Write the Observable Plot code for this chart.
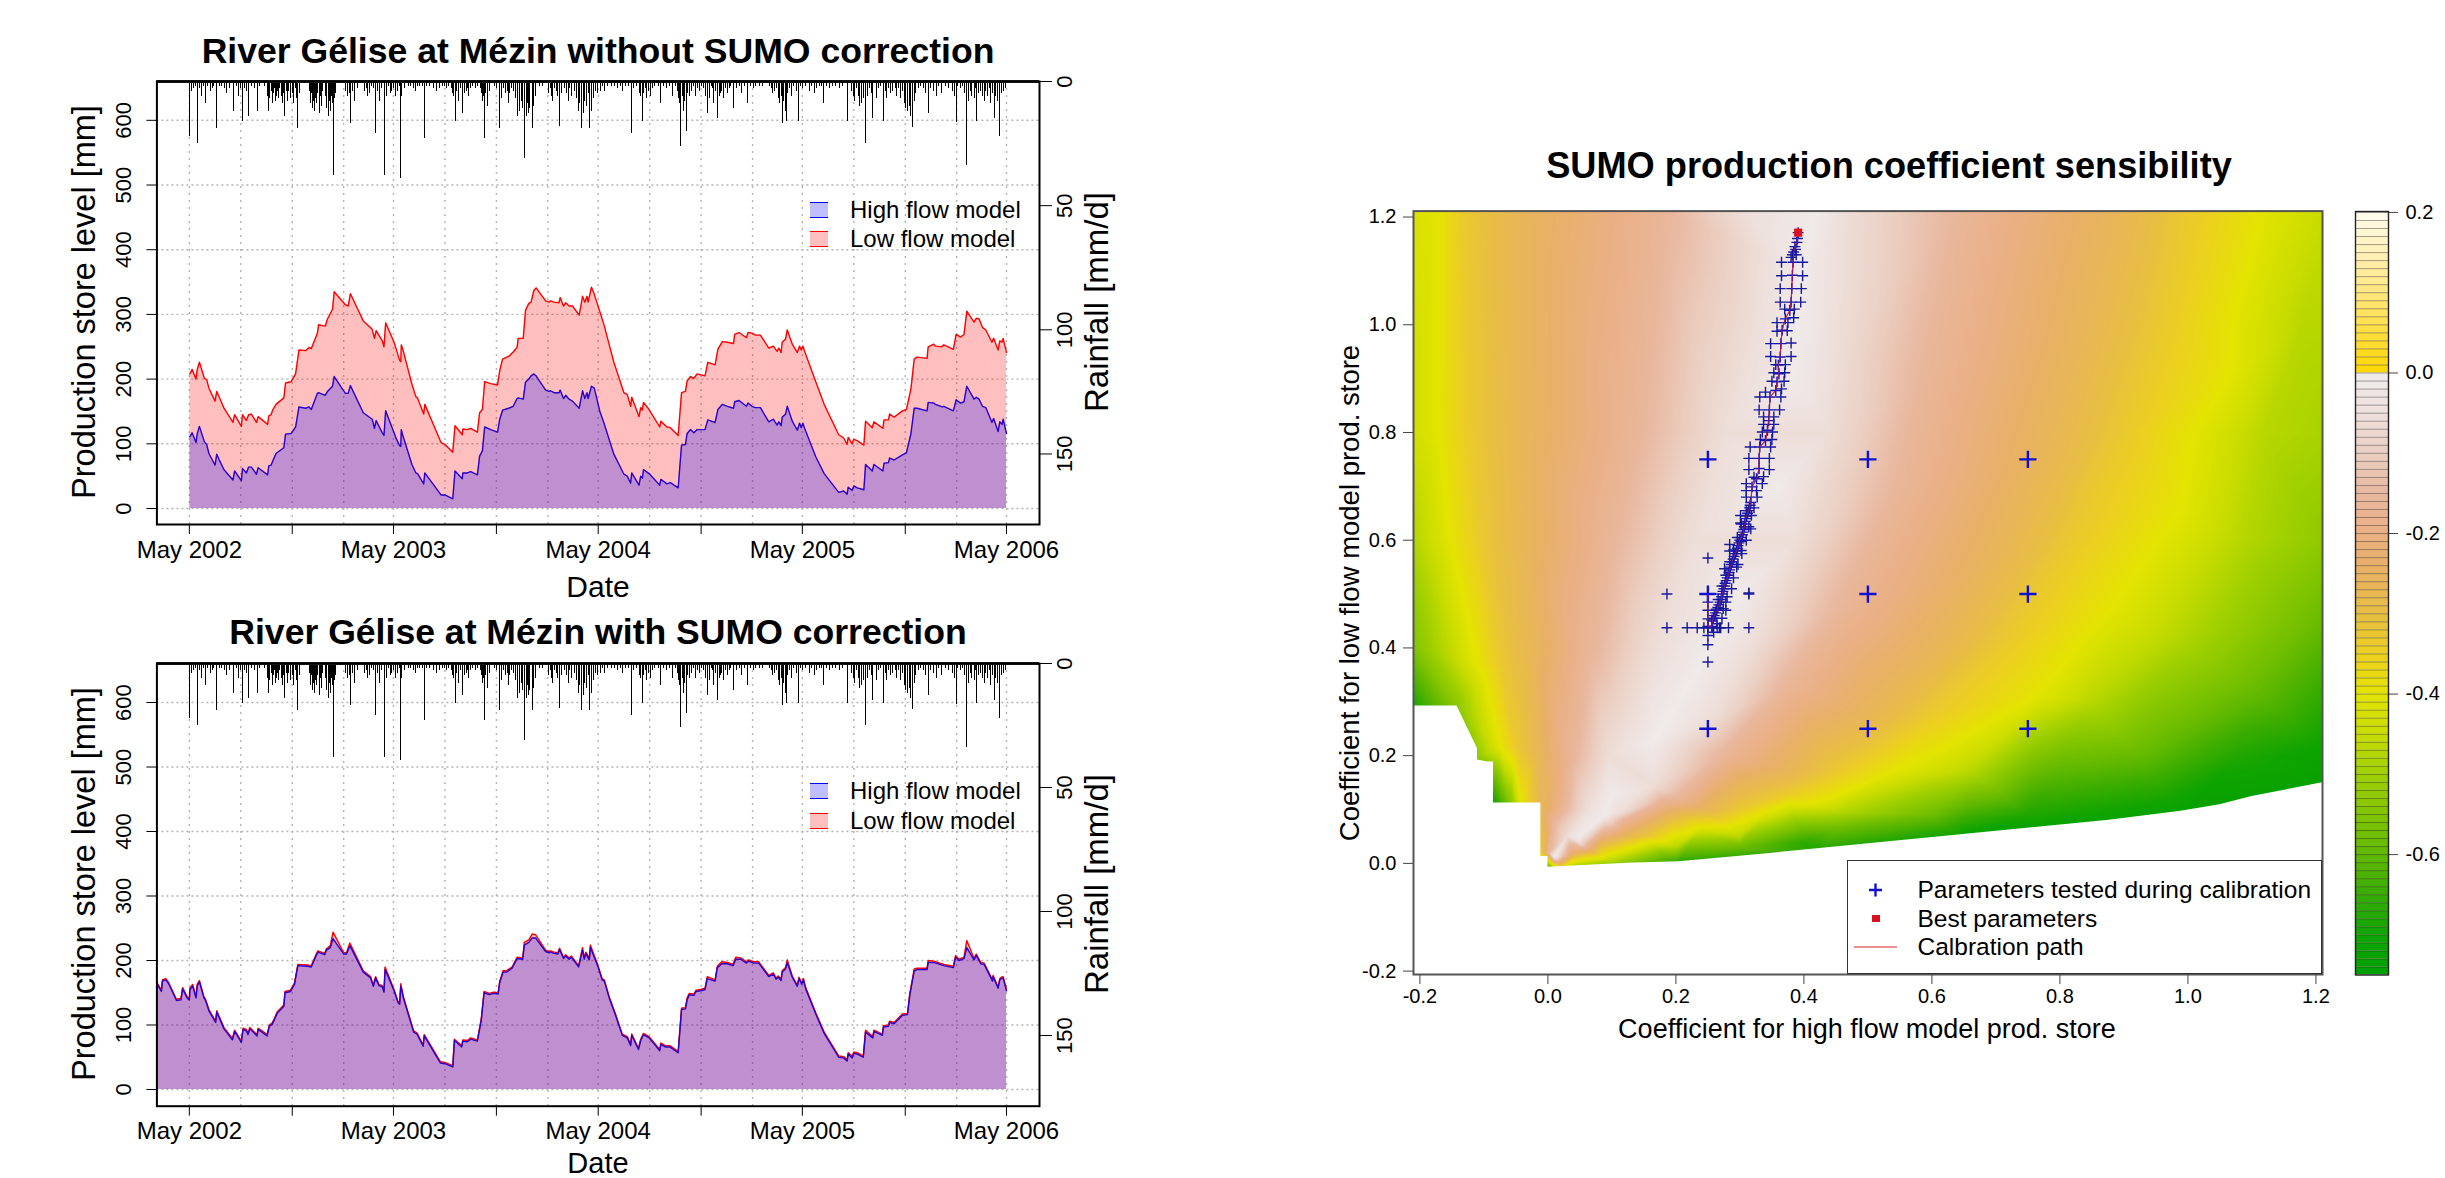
<!DOCTYPE html>
<html><head><meta charset="utf-8">
<script src="https://cdn.jsdelivr.net/npm/d3@7"></script>
<script src="https://cdn.jsdelivr.net/npm/@observablehq/plot@0.6"></script>
<style>
html,body{margin:0;padding:0;background:#fff;}
#page{position:relative;width:2445px;height:1178px;overflow:hidden;font-family:"Liberation Sans",Arial,sans-serif;color:#000;}
#page svg.plot-abs{position:absolute;max-width:none;}
.lbl{position:absolute;white-space:nowrap;line-height:1;}
</style></head><body><div id="page"></div>
<script>
// ---- production store series, upper chart (days after 1 May 2002, mm)
const daysTop=[1,5,12,14,18,27,31,35,46,49,53,62,78,81,93,95,102,106,111,120,123,140,142,146,149,155,169,172,182,190,196,208,214,218,229,231,243,247,256,259,279,284,288,311,327,331,334,345,348,351,366,370,376,378,379,382,398,405,408,419,421,450,457,471,475,488,489,497,503,515,519,524,528,539,551,555,560,571,579,586,588,597,601,607,611,616,620,637,643,646,652,661,663,669,673,679,685,697,703,707,711,713,719,724,734,
741,759,777,783,789,791,804,807,810,812,822,841,843,854,860,874,880,887,890,896,902,908,922,927,940,945,953,962,973,975,983,996,999,1006,1012,1021,1036,1044,1051,1054,1058,1060,1066,1069,1078,1087,1091,1094,1097,1100,1120,1135,1161,1170,1176,1178,1185,1188,1194,1206,1209,1221,1224,1240,1242,1250,1252,1260,1275,1282,1290,1296,1301,1319,1321,1331,1334,1346,1349,1366,1371,1379,1385,1390,1403,1407,1412,1418,1424,1435,1438,1446,1449,1453,1455,1461];
const lowTop=[208,215,200,214,226,201,199,186,166,181,173,155,133,145,127,145,136,145,146,133,142,130,143,145,152,161,171,194,196,208,245,244,249,247,271,284,282,293,308,335,315,313,332,290,277,263,275,259,250,287,257,246,229,227,253,245,192,173,171,146,161,102,99,87,128,114,123,122,124,118,148,153,196,193,191,213,231,235,242,249,263,263,306,317,319,337,341,321,319,321,319,318,326,313,318,313,313,299,328,319,328,319,342,331,304,
285,226,179,176,158,172,142,156,152,164,153,126,135,126,125,113,179,181,197,204,201,208,205,226,222,246,258,257,255,269,272,264,272,271,268,268,248,251,243,248,241,257,262,276,254,241,251,245,251,243,196,161,114,109,99,110,100,107,105,98,135,125,134,124,137,137,146,141,151,153,184,231,234,232,250,254,251,250,253,246,269,265,269,305,288,294,293,280,276,257,263,245,259,257,263,241];
const highTop=[111,117,102,115,127,103,99,85,67,84,76,60,44,58,43,62,55,64,64,53,63,52,66,67,73,85,94,115,116,126,157,155,157,153,178,179,175,181,189,204,178,178,190,148,138,124,136,117,113,151,117,108,97,96,122,112,68,55,54,38,55,21,21,15,58,46,55,55,57,52,81,89,126,122,118,138,152,155,158,170,171,169,195,200,205,208,205,183,181,182,179,179,183,170,175,169,166,155,182,170,179,170,189,186,150,
133,84,53,50,39,55,36,50,47,60,54,36,45,38,40,32,98,99,116,122,117,122,122,137,133,153,161,158,155,165,167,158,163,158,156,156,134,138,129,134,128,141,146,158,135,121,132,125,132,124,80,54,25,27,22,33,28,35,32,29,68,58,68,58,70,71,78,75,83,86,115,155,155,151,164,163,161,157,158,151,168,163,165,189,169,172,169,158,156,133,139,119,134,130,138,116];
// ---- production store series, lower chart
const daysBot=[-58,-50,-48,-42,-37,-23,-15,-12,-4,0,1,6,12,14,18,26,29,35,47,49,62,77,81,93,96,102,105,108,112,121,123,130,139,143,148,152,157,169,171,181,188,194,211,218,227,230,242,245,252,257,276,281,287,311,324,329,333,339,345,348,350,366,373,376,378,383,401,407,418,420,449,457,471,474,487,489,497,503,515,518,522,527,536,545,552,555,561,567,577,586,596,599,607,613,619,637,643,646,652,659,662,669,673,679,683,696,703,706,709,715,717,
730,738,742,751,762,774,783,789,791,803,807,812,822,841,843,851,859,874,880,887,890,894,902,906,914,922,926,940,944,952,962,972,977,986,996,1000,1009,1018,1036,1044,1049,1053,1058,1060,1066,1069,1078,1087,1090,1095,1098,1102,1120,1135,1161,1170,1176,1178,1185,1188,1194,1205,1209,1222,1224,1239,1241,1250,1252,1260,1275,1284,1288,1296,1301,1319,1321,1331,1335,1349,1366,1370,1376,1385,1390,1403,1407,1415,1421,1436,1437,1446,1449,1452,1455,1461];
const highBot=[164,152,168,170,164,138,139,156,142,139,155,160,142,160,167,142,138,122,104,120,94,77,90,73,93,91,85,94,91,83,93,89,83,98,101,108,118,129,150,152,163,192,191,190,208,213,209,216,220,234,210,210,223,182,173,160,173,161,159,151,186,153,135,132,160,141,89,86,67,83,41,40,35,76,66,75,74,78,75,89,108,150,147,149,148,166,182,182,188,203,202,224,228,235,235,214,212,213,211,210,217,203,207,202,205,190,216,202,211,201,220,
192,170,168,141,115,84,80,68,84,62,76,85,80,60,70,66,66,57,124,125,139,147,146,152,153,155,172,168,189,195,195,192,202,202,196,199,196,196,175,179,171,174,169,182,187,197,174,160,172,163,170,156,117,87,50,49,44,55,49,56,55,50,89,80,90,84,97,98,104,102,115,116,146,184,186,186,197,197,196,192,189,205,200,203,220,201,208,195,194,168,175,157,170,172,173,153];
const lowBot=[166,154,170,172,166,140,141,158,144,141,157,163,144,163,169,144,140,124,106,122,96,79,92,75,95,93,87,96,93,85,95,91,85,100,103,110,120,131,152,154,165,194,193,192,210,215,211,218,223,244,212,212,227,184,175,162,175,163,161,153,190,155,137,134,164,143,91,88,69,85,43,42,37,78,68,77,76,80,77,91,110,152,149,151,150,168,184,184,190,205,204,228,232,241,240,216,214,215,213,212,219,205,209,204,207,192,220,204,213,203,224,
194,172,170,143,117,86,82,70,86,64,78,87,82,62,72,68,68,59,126,127,142,149,148,154,155,157,175,170,191,198,197,194,205,204,198,201,198,198,177,181,173,176,171,184,189,201,176,162,174,165,172,158,119,89,52,51,46,57,51,58,57,52,92,82,92,86,99,100,106,104,117,118,148,187,188,188,200,199,198,194,191,208,202,205,231,203,210,197,196,170,177,159,172,174,175,155];
// ---- daily rainfall (days after 1 May 2002, mm/d), large spikes then smaller ones
const rainDays=[0,14,29,49,79,95,106,122,141,171,194,258,288,333,349,378,420,475,489,528,554,587,599,613,662,701,716,790,810,843,879,889,927,944,973,998,1060,1068,1089,1134,1177,1209,1222,1241,1293,1321,1371,1390,1408,1439,1448,
3,8,11,18,21,25,33,38,41,44,54,58,62,67,72,84,88,91,99,102,112,116,126,135,139,144,146,148,150,152,154,156,158,160,162,165,167,169,173,175,178,181,184,187,190,192,197,214,216,218,220,222,224,226,228,230,232,234,236,238,244,246,248,250,252,254,256,260,262,280,283,286,291,296,300,313,316,319,322,326,330,336,340,344,352,356,360,362,365,368,372,376,380,384,392,396,400,405,408,412,416,424,430,436,442,448,452,456,460,464,468,470,472,478,482,485,492,495,498,500,503,507,512,516,520,522,524,526,530,533,536,545,550,558,562,565,568,570,573,576,580,584,590,593,596,602,604,606,609,616,619,626,632,642,645,648,650,653,656,659,666,670,674,678,680,684,688,692,695,698,704,707,710,713,719,722,726,730,735,738,742,748,754,760,765,770,775,780,785,795,800,804,807,812,815,818,821,825,828,832,838,848,853,858,864,869,872,875,877,881,883,885,891,894,897,902,905,908,912,916,920,922,930,933,935,938,941,948,950,952,955,958,962,965,968,978,983,987,992,1003,1008,1013,1020,1025,1037,1040,1043,1046,1050,1053,1055,1058,1062,1065,1070,1073,1076,1080,1085,1093,1097,1102,1108,1112,1118,1122,1126,1130,1140,1145,1150,1156,1162,1168,1184,1187,1190,1193,1196,1199,1202,1205,1212,1216,1219,1228,1232,1236,1244,1247,1250,1254,1258,1262,1265,1268,1272,1275,1278,1281,1284,1287,1290,1296,1299,1303,1307,1312,1316,1325,1330,1335,1340,1345,1352,1358,1364,1368,1374,1378,1382,1386,1393,1396,1399,1403,1406,1411,1415,1418,1421,1424,1427,1430,1433,1436,1442,1445,1452,1456,1459];
const rainMm=[22,25,9,19,12,16,14,12,12,14,19,38,17,21,38,39,23,16,13,23,19,14,31,19,18,19,19,21,16,9,26,20,13,15,11,9,17,16,16,9,16,25,15,16,18.5,13,16.5,34,16,15,22,
4,3,2,3,6,2,2,4,3,2,2,2,3,5,3,2,6,3,3,4,2,3,2,2,6,7,4,9,5,3,8,6,4,7,3,6,9,5,4,8,4,7,5,9,3,7,5,4,9,5,11,8,12,7,9,5,13,6,10,4,6,11,14,8,12,6,9,7,5,4,6,5,4,8,3,4,3,6,5,2,3,4,8,3,6,2,5,4,3,6,4,2,6,3,2,2,3,4,2,2,2,2,2,3,4,3,2,2,3,2,3,5,6,4,8,3,5,4,3,6,3,2,3,2,3,5,8,6,5,10,4,2,3,7,3,5,4,9,5,3,4,7,12,8,11,14,9,13,11,10,6,2,2,5,3,6,8,3,4,6,5,3,5,8,3,6,4,7,12,9,13,8,10,5,12,7,4,5,4,2,4,2,2,2,3,2,4,2,2,3,2,5,6,5,3,7,4,6,3,2,2,2,3,2,6,2,4,7,9,6,12,8,5,6,4,2,6,3,4,2,3,6,7,2,3,9,4,6,5,4,7,3,5,3,2,3,2,5,2,2,3,2,2,2,2,3,5,4,3,7,9,6,8,12,5,3,6,2,4,2,3,2,4,2,5,3,2,2,2,3,2,2,3,2,4,6,8,3,6,10,9,7,6,3,5,7,3,2,4,7,3,5,4,3,6,3,7,4,9,11,12,10,14,8,5,3,2,3,5,3,4,6,2,5,2,3,4,6,2,3,2,5,8,4,6,7,3,5,4,6,8,4,6,3,9,5,6,8,5,4,3];
// ---- tick values
const storeTicks=[0,100,200,300,400,500,600];
const rainTicks=[0,50,100,150];
const yearTicks=["2002-05-01","2003-05-01","2004-05-01","2005-05-01","2006-05-01"];
const novTicks=["2002-11-01","2003-11-01","2004-11-01","2005-11-01"];
const quarterGrid=["2002-05-01","2002-08-01","2002-11-01","2003-02-01","2003-05-01","2003-08-01","2003-11-01","2004-02-01","2004-05-01","2004-08-01","2004-11-01","2005-02-01","2005-05-01","2005-08-01","2005-11-01","2006-02-01","2006-05-01"];
const isoLevels=[-0.40,-0.33,-0.27,-0.17,-0.06,-0.01,-0.06,-0.17,-0.27,-0.33,-0.40,-0.47,-0.58];
const isoLines=[
 [[-.17,1.22],[-.17,.8],[-.152,.6],[-.11,.37],[-.074,.216],[-.043,.117],[-.03,.09]],
 [[-.13,1.22],[-.12,.8],[-.105,.6],[-.075,.37],[-.05,.216],[-.028,.117],[-.012,.02]],
 [[-.05,1.22],[-.045,.8],[-.04,.6],[-.025,.4],[-.015,.2],[-.01,.1],[-.005,.02]],
 [[.17,1.22],[.13,.8],[.09,.6],[.06,.4],[.035,.2],[.008,.08],[0,.02]],
 [[.3,1.22],[.27,.8],[.22,.6],[.165,.4],[.095,.2],[.06,.1],[.03,.05]],
 [[.42,1.22],[.40,1.1],[.385,.9],[.36,.7],[.30,.5],[.23,.35],[.165,.228],[.098,.122],[.0875,.089],[.05,.05],[.01,.012]],
 [[.47,1.22],[.46,1.0],[.44,.8],[.39,.6],[.33,.42],[.26,.27],[.165,.145],[.115,.095],[.05,.038]],
 [[.66,1.22],[.6,.9],[.56,.7],[.47,.48],[.38,.33],[.28,.2],[.18,.115],[.12,.08],[.05,.03]],
 [[.9,1.22],[.85,1.0],[.78,.75],[.7,.55],[.6,.38],[.5,.27],[.38,.17],[.25,.1],[.12,.05],[.04,.015]],
 [[1.0,1.22],[.96,1.0],[.9,.8],[.82,.6],[.72,.42],[.6,.28],[.52,.22],[.45,.17],[.37,.13],[.3,.1],[.16,.05],[.06,.015]],
 [[1.12,1.22],[1.067,.91],[.989,.66],[.877,.47],[.765,.313],[.63,.22],[.55,.175],[.447,.123],[.34,.095],[.238,.067],[.16,.04],[.082,.011]],
 [[1.18,1.0],[1.12,.8],[1.08,.6],[.98,.42],[.85,.3],[.66,.17],[.45,.095],[.3,.05],[.2,.03],[.1,.005]],
 [[1.2,.45],[1.1,.33],[.92,.21],[.6,.09],[.45,.065],[.3,.03]]
];
const edgeX=[-.22,-.22,-.22,-.22,-.22,-.22,-.142,-.11,-.085,-.06,1.22,1.22,1.22,1.22,1.22,1.22,.99,.65,.43,.2,.03,.005,1.08,.75,.4];
const edgeY=[1.22,.8,.6,.41,.3,.15,.292,.2,.112,.112,1.22,.8,.6,.4,.2,.13,.08,.04,.015,-.005,-.02,-.007,.2,.09,.04];
const edgeV=[-.42,-.44,-.49,-.56,-.7,-.72,-.53,-.52,-.7,-.55,-.45,-.49,-.53,-.62,-.72,-.74,-.74,-.74,-.7,-.7,-.6,-.55,-.68,-.68,-.66];
// ---- white area outside of the field
const maskX=[-.22,-.142,-.11,-.11,-.094,-.085,-.085,-.011,-.011,0,0,.124,.205,.317,.429,.653,.877,.989,1.05,1.10,1.22];
const maskY=[.292,.292,.213,.192,.188,.188,.112,.112,.013,.013,-.007,.0003,.003,.015,.028,.054,.08,.097,.109,.124,.152];
// ---- colour key
const colorStops=[-.75,-.7,-.65,-.6,-.55,-.5,-.45,-.4,-.35,-.3,-.24,-.2,-.15,-.1,-.05,-.002,0,.1,.2];
const colorHex=["#00A000","#10A400","#38AC00","#60B800","#80C400","#A0D000","#C8DC00","#E4E400","#ECD020","#E8BE44","#E8B068","#EAB085","#E9B8A0","#EBCFC2","#EEE0DC","#F0ECEC","#FFD700","#FFE680","#FFFBEF"];
const colorTicks=[.2,0,-.2,-.4,-.6];
const fieldTicks=[-.2,0,.2,.4,.6,.8,1,1.2];
// ---- calibration
const gridX=[.25,.5,.75,.25,.5,.75,.25,.5,.75];
const gridY=[.75,.75,.75,.5,.5,.5,.25,.25,.25];
const pathX=[.25,.25,.256,.257,.26,.264,.267,.271,.272,.275,.277,.28,.283,.285,.288,.291,.295,.297,.3,.304,.306,.308,.309,.312,.315,.317,.319,.326,.33,.33,.331,.34,.343,.345,.346,.347,.356,.358,.361,.36,.363,.364,.366,.371,.378,.38,.381,.382,.383,.384,.389,.391];
const pathY=[.5,.44,.44,.45,.46,.47,.48,.49,.5,.51,.52,.53,.54,.55,.56,.57,.58,.59,.6,.61,.62,.63,.64,.65,.66,.67,.699,.714,.733,.752,.773,.785,.804,.822,.842,.866,.878,.894,.909,.925,.94,.965,.99,1.011,1.027,1.042,1.067,1.092,1.116,1.135,1.153,1.171];
const sideX=[.365,.398,.365,.398,.363,.396,.363,.395,.37,.385,.384,.358,.375,.358,.374,.348,.38,.348,.38,.356,.371,.353,.37,.35,.369,.365,.34,.331,.364,.33,.362,.337,.353,.337,.353,.335,.351,.332,.35,.316,.348,.314,.346,.314,.346,.322,.337,.335,.31,.31,.326,.31,.327,.301,.318,.301,.317,.284,.302,.284,.302,.276,.295,.31,.322,.302,.314,.296,.31,.29,.303,.284,.297,.278,.29,.272,.287,.266,.28,.263,.278,.256,.272,.274,.278,.259,.264,.268,.25,.314,.186,.314,.2176,.2333,.2437,.25,.2567,.2645,.27,.2822,.314,.186,.25,.25,.25,.25,.25,.25,
.2585,.262,.2655,.269,.2715,.2735,.276,.2785,.2815,.284,.2865,.2895,.293,.296,.2985,.302,.305,.307,.3085,.3105,.3135,.316,.386,.387,.388,.39,.38,.382];
const sideY=[1.116,1.116,1.091,1.091,1.067,1.067,1.042,1.042,1.029,1.029,1.013,1.004,1.004,.988,.989,.965,.966,.941,.941,.926,.926,.911,.911,.895,.895,.881,.875,.866,.866,.842,.842,.829,.829,.815,.815,.801,.801,.787,.787,.773,.773,.752,.752,.731,.731,.717,.718,.705,.705,.692,.692,.68,.68,.646,.646,.632,.621,.592,.598,.58,.581,.547,.55,.655,.66,.63,.625,.605,.6,.582,.575,.56,.555,.535,.53,.515,.51,.49,.495,.472,.47,.452,.455,.473,.485,.429,.445,.4374,.567,.502,.5,.5,.4374,.4374,.4374,.4374,.4374,.4374,.4374,.4374,.4374,.4374,.423,.406,.374,.454,.47,.485,
.455,.465,.475,.485,.495,.505,.515,.525,.535,.545,.555,.565,.575,.585,.595,.605,.615,.625,.635,.645,.655,.665,1.145,1.14,1.13,1.16,1.125,1.13];
const bestX=[.391], bestY=[1.171];

// ---- checks
[[daysTop,lowTop],[daysTop,highTop],[daysBot,highBot],[daysBot,lowBot],[rainDays,rainMm],[pathX,pathY],[sideX,sideY]].forEach(([a,b],i)=>{if(a.length!==b.length)throw new Error("length mismatch "+i+": "+a.length+" vs "+b.length)});

const page=document.getElementById("page");
const FONT='"Liberation Sans",Arial,sans-serif';
const toDate=d=>new Date(Date.UTC(2002,4,1)+d*864e5);
const label=(text,cx,cy,size,o={})=>{const e=document.createElement("div");e.className="lbl";e.textContent=text;
 e.style.left=cx+"px";e.style.top=cy+"px";e.style.fontSize=size+"px";if(o.bold)e.style.fontWeight="bold";
 e.style.transform=`translate(-50%,-50%) ${o.rotate?"rotate(-90deg)":""}`;page.appendChild(e);};
const place=(svg,left,top)=>{svg.classList.add("plot-abs");svg.style.left=left+"px";svg.style.top=top+"px";svg.style.background="transparent";page.appendChild(svg);};
const rows=(xs,ys)=>xs.map((x,i)=>({d:toDate(x),v:ys[i]}));
const rainRows=rows(rainDays,rainMm);

function riverPanel(top,H,boxTop,boxBottom,lowS,highS,days,storeDom,rainMax){
 const W=1140,ml=156.4,mr=W-1039,mt=boxTop-top,mb=top+H-boxBottom;
 const xDom=[toDate(-58),toDate(1520)];
 const low=rows(days,lowS),high=rows(days,highS);
 const Y=(s)=>new Date(s+"T00:00:00Z");
 const base={width:W,height:H,marginLeft:ml,marginRight:mr,marginTop:mt,marginBottom:mb,style:{fontFamily:FONT,background:"transparent"},x:{type:"utc",domain:xDom}};
 place(Plot.plot({...base,y:{domain:storeDom},marks:[
  Plot.ruleX(quarterGrid.map(Y),{stroke:"#b4b4b4",strokeDasharray:"2,5",strokeWidth:1.4}),
  Plot.ruleY(storeTicks,{stroke:"#b4b4b4",strokeDasharray:"2,3",strokeWidth:1.4}),
  Plot.areaY(low,{x:"d",y:"v",fill:"#ff0000",fillOpacity:.25}),
  Plot.areaY(high,{x:"d",y:"v",fill:"#0000ff",fillOpacity:.25}),
  Plot.lineY(low,{x:"d",y:"v",stroke:"#ff0000",strokeWidth:1.4}),
  Plot.lineY(high,{x:"d",y:"v",stroke:"#2a00cc",strokeWidth:1.4}),
  Plot.axisY(storeTicks,{anchor:"left",label:null,tickSize:10,tickPadding:16,tickRotate:-90,textAnchor:"middle",fontSize:22,stroke:"#000"}),
  Plot.axisX(yearTicks.map(Y),{anchor:"bottom",label:null,tickSize:10,tickPadding:6,fontSize:24,tickFormat:d3.utcFormat("%b %Y"),stroke:"#000"}),
  Plot.axisX(novTicks.map(Y),{anchor:"bottom",label:null,tickSize:10,tickFormat:()=>"",stroke:"#000"})
 ]}),0,top);
 place(Plot.plot({...base,y:{domain:[rainMax,0]},marks:[
  Plot.ruleX(rainRows,{x:"d",y1:0,y2:"v",stroke:"#000",strokeWidth:1,shapeRendering:"crispEdges"}),
  Plot.ruleY([0],{stroke:"#222",strokeWidth:3}),
  Plot.axisY(rainTicks,{anchor:"right",label:null,tickSize:12,tickPadding:20,tickRotate:-90,textAnchor:"middle",fontSize:22,stroke:"#000"}),
  Plot.axisX({ticks:[],label:null}),
  Plot.frame({stroke:"#000",strokeWidth:2})
 ]}),0,top);
}
riverPanel(0,590,81,524,lowTop,highTop,daysTop,[-24.7,660],178.4);
riverPanel(590,588,663,1105.7,lowBot,highBot,daysBot,[-25.9,660.5],178.5);

// titles and labels, left column
label("River Gélise at Mézin without SUMO correction",598,51.5,35.6,{bold:true});
label("River Gélise at Mézin with SUMO correction",598,633,35.6,{bold:true});
label("Production store level [mm]",84,302,32.5,{rotate:true});
label("Production store level [mm]",84,884,32.5,{rotate:true});
label("Rainfall [mm/d]",1096,302,33,{rotate:true});
label("Rainfall [mm/d]",1096,884,33,{rotate:true});
label("Date",598,587,30);
label("Date",598,1162.5,29);
// river legends
function riverLegend(y1,y2){
 const sw=(y,h,c,f)=>{const e=document.createElement("div");e.style.cssText=`position:absolute;left:810px;top:${y}px;width:18px;height:${h}px;background:${f};border-top:1.5px solid ${c};border-bottom:1.5px solid ${c};box-sizing:border-box;`;page.appendChild(e);};
 sw(y1,16,"#0000ff","#bfbfff");sw(y2,16,"#ff0000","#ffbfbf");
 const t=(s,y)=>{const e=document.createElement("div");e.className="lbl";e.textContent=s;e.style.cssText+=`left:850px;top:${y}px;font-size:24px;transform:translateY(-50%);`;page.appendChild(e);};
 t("High flow model",y1+8);t("Low flow model",y2+8);
}
riverLegend(201.5,231);riverLegend(783,812.7);

// right panel: sensitivity field
const samples=[];
isoLines.forEach((ln,i)=>ln.forEach(([x,y])=>samples.push({x,y,v:isoLevels[i]})));
edgeX.forEach((x,i)=>samples.push({x,y:edgeY[i],v:edgeV[i]}));
const mask=maskX.map((x,i)=>({x,y:maskY[i]}));
const pts=(xs,ys)=>xs.map((x,i)=>({x,y:ys[i]}));
const colorScale={type:"linear",domain:colorStops,range:colorHex,clamp:true};
const tick1=d=>d.toFixed(1);
place(Plot.plot({width:1000,height:850,marginLeft:83,marginRight:8,marginTop:30.6,marginBottom:56,
 style:{fontFamily:FONT,background:"transparent"},
 x:{domain:[-.21,1.2103]},y:{domain:[-.2063,1.211]},color:colorScale,
 marks:[
  Plot.raster(samples,{x:"x",y:"y",fill:"v",interpolate:"barycentric",pixelSize:1}),
  Plot.areaY(mask,{x:"x",y1:-.3,y2:"y",fill:"#fff",clip:true}),
  Plot.lineY(pts(pathX,pathY),{x:"x",y:"y",z:null,stroke:"#e03040",strokeWidth:1.2,sort:null}),
  Plot.dot(pts(sideX,sideY),{x:"x",y:"y",symbol:"plus",r:3.6,stroke:"#18189a",strokeWidth:1.4}),
  Plot.dot(pts(pathX,pathY),{x:"x",y:"y",symbol:"plus",r:3.6,stroke:"#1414b4",strokeWidth:1.4}),
  Plot.dot(pts(gridX,gridY),{x:"x",y:"y",symbol:"plus",r:5.6,stroke:"#1010d0",strokeWidth:2.4}),
  Plot.lineY(pts(pathX,pathY),{x:"x",y:"y",z:null,stroke:"#c02050",strokeWidth:1,strokeOpacity:.7,sort:null}),
  Plot.dot(pts(bestX,bestY),{x:"x",y:"y",symbol:"square",r:4.6,fill:"#d81020"}),
  Plot.frame({stroke:"#555",strokeWidth:2}),
  Plot.axisX(fieldTicks,{anchor:"bottom",label:null,tickSize:10,tickPadding:4,fontSize:20,tickFormat:tick1,stroke:"#444"}),
  Plot.axisY(fieldTicks,{anchor:"left",label:null,tickSize:10,tickPadding:7,fontSize:20,tickFormat:tick1,stroke:"#444"})
 ]}),1330,180);
label("SUMO production coefficient sensibility",1889,166,36.2,{bold:true});
label("Coefficient for high flow model prod. store",1867,1029,27);
label("Coefficient for low flow model prod. store",1350,593,27.5,{rotate:true});

// colour key
const bands=d3.range(-75,20).map(i=>({lo:i/100,hi:(i+1)/100,v:(i+.5)/100}));
place(Plot.plot({width:105,height:800,marginLeft:15,marginRight:57,marginTop:21,marginBottom:15.5,
 style:{fontFamily:FONT,background:"transparent"},x:{domain:[0,1],axis:null},y:{domain:[-.75,.2012]},color:colorScale,
 marks:[
  Plot.rect(bands,{x1:0,x2:1,y1:"lo",y2:"hi",fill:"v",inset:0}),
  Plot.ruleY(bands,{y:"hi",stroke:"#222",strokeWidth:.7,strokeOpacity:.6}),
  Plot.frame({stroke:"#222",strokeWidth:1.4}),
  Plot.axisY(colorTicks,{anchor:"right",label:null,tickSize:9,tickPadding:8,fontSize:20,tickFormat:tick1,stroke:"#444"})
 ]}),2340,190);

// right legend
const lg=document.createElement("div");
lg.style.cssText="position:absolute;left:1846.5px;top:860px;width:475.5px;height:114px;background:#fff;border:1.5px solid #333;box-sizing:border-box;";
page.appendChild(lg);
const lsvg=new DOMParser().parseFromString(`<svg xmlns="http://www.w3.org/2000/svg" width="60" height="90"><path d="M21 29h13M27.5 22.5v13" stroke="#1010d0" stroke-width="2.4" fill="none"/><rect x="24" y="54" width="8" height="7" fill="#d81020"/><path d="M6 86h43" stroke="#e86a6a" stroke-width="1.6"/></svg>`,"image/svg+xml").documentElement;
lsvg.style.cssText="position:absolute;left:0;top:0;overflow:visible;";
lg.appendChild(lsvg);
[["Parameters tested during calibration",29],["Best parameters",58],["Calbration path",86]].forEach(([s,y])=>{const e=document.createElement("div");e.className="lbl";e.textContent=s;e.style.cssText+=`left:70px;top:${y}px;font-size:24.5px;transform:translateY(-50%);`;lg.appendChild(e);});
</script></body></html>
